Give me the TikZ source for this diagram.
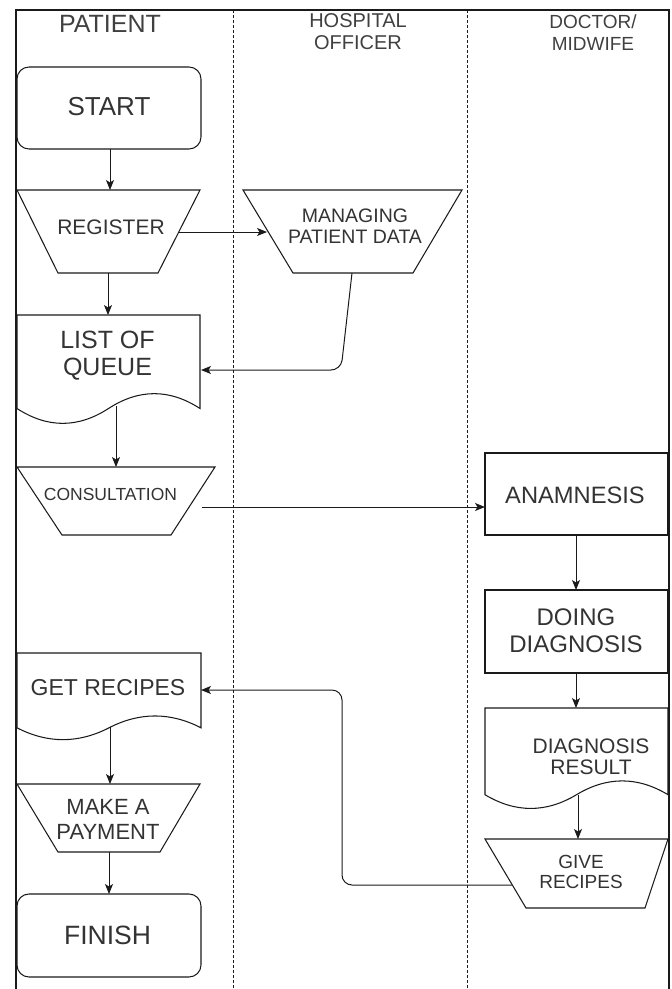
\documentclass[tikz,border=0pt]{standalone}
\usepackage{fontspec}
\setmainfont{Liberation Sans}
\usetikzlibrary{arrows.meta}
\definecolor{txt}{HTML}{333333}
\definecolor{hdr}{HTML}{404040}
\definecolor{ln}{HTML}{1A1A1A}
\newcommand\myfs[2]{\fontsize{#1}{#2}\selectfont}
\tikzset{
  shp/.style={draw=ln, line width=1.05pt, line join=miter},
  conn/.style={draw=ln, line width=1pt, -{Stealth[length=10pt,width=8pt,inset=2.5pt]}},
  lbl/.style={text=txt, align=center, inner sep=0pt},
  hlbl/.style={text=hdr, align=center, inner sep=0pt},
  lane/.style={draw=ln, line width=1pt, dash pattern=on 3pt off 2pt},
  pool/.style={draw=ln, line width=2.2pt, line join=miter},
}
\begin{document}
\begin{tikzpicture}[x=1pt, y=-1pt]
\useasboundingbox (0,0) rectangle (672,989);
% pool and lanes
\draw[pool] (16,989) -- (16,10) -- (669,10) -- (669,989);
\draw[lane] (233,10) -- (233,989);
\draw[lane] (467,10) -- (467,989);
% headers
\node[hlbl, font=\myfs{25}{27}] (hPat) at (110,24) {PATIENT};
\node[hlbl, font=\myfs{20}{22}] (hHos) at (358,32) {HOSPITAL\\OFFICER};
\node[hlbl, font=\myfs{19}{22}] (hDoc) at (593,32.5) {DOCTOR/\\MIDWIFE};
% shapes
\draw[shp, rounded corners=12pt] (17,67) rectangle (201,149);
\node[lbl, font=\myfs{26}{28}] (start) at (109,106.5) {START};

\draw[shp] (17,190) -- (200,190) -- (158,273) -- (58,273) -- cycle;
\node[lbl, font=\myfs{21}{23}] (reg) at (111,227) {REGISTER};

\draw[shp] (243,190) -- (462,190) -- (413,273) -- (293,273) -- cycle;
\node[lbl, font=\myfs{19.5}{21}] (man) at (355,226.5) {MANAGING\\PATIENT DATA};

\draw[shp] (17,315) -- (200,315) -- (200,408.5)
  .. controls (169.5,388.7) and (139,388.7) .. (108.5,408.5)
  .. controls (78,428.3) and (47.5,428.3) .. (17,408.5) -- cycle;
\node[lbl, font=\myfs{25}{27}] (lq) at (107.5,356) {LIST OF\\QUEUE};

\draw[shp] (17,467) -- (215,467) -- (171,535) -- (62,535) -- cycle;
\node[lbl, font=\myfs{17.5}{19}] (con) at (110.5,494) {CONSULTATION};

\draw[shp] (485,453) rectangle (668,535);
\node[lbl, font=\myfs{23.7}{26}] (ana) at (575,495) {ANAMNESIS};

\draw[shp] (485,590) rectangle (668,673);
\node[lbl, font=\myfs{24}{27}] (doing) at (576,630.5) {DOING\\DIAGNOSIS};

\draw[shp] (485,708) -- (668,708) -- (668,794.7)
  .. controls (637.5,776.3) and (607,776.3) .. (576.5,794.7)
  .. controls (546,813) and (515.5,813) .. (485,794.7) -- cycle;
\node[lbl, font=\myfs{21}{21.5}] (dres) at (591,757) {DIAGNOSIS\\RESULT};

\draw[shp] (485,839) -- (668,839) -- (645,908) -- (526,908) -- cycle;
\node[lbl, font=\myfs{19}{20}] (give) at (581,871.5) {GIVE\\RECIPES};

\draw[shp] (17,653) -- (201,653) -- (201,727.8)
  .. controls (170.3,712) and (139.7,712) .. (109,727.8)
  .. controls (78.3,743.6) and (47.7,743.6) .. (17,727.8) -- cycle;
\node[lbl, font=\myfs{23}{25}] (getr) at (108,688) {GET RECIPES};

\draw[shp] (17,784) -- (200,784) -- (160,852) -- (58,852) -- cycle;
\node[lbl, font=\myfs{22}{25}] (pay) at (108,819) {MAKE A\\PAYMENT};

\draw[shp, rounded corners=12pt] (17,894) rectangle (201,977);
\node[lbl, font=\myfs{26.5}{28}] (fin) at (107.5,935) {FINISH};

% connection points
\coordinate (startS) at (110,149);
\coordinate (regN) at (110,190);
\coordinate (regE) at (179,232);
\coordinate (manW) at (267,232);
\coordinate (regS) at (108,273);
\coordinate (lqN) at (108,315);
\coordinate (manS) at (352,273);
\coordinate (bendA) at (341,370);
\coordinate (lqE) at (201,370);
\coordinate (lqS) at (116,406);
\coordinate (conN) at (116,467);
\coordinate (conE) at (202,507);
\coordinate (anaW) at (485,507);
\coordinate (anaS) at (576,535);
\coordinate (doN) at (576,590);
\coordinate (doS) at (576,673);
\coordinate (drN) at (576,708);
\coordinate (drS) at (578,795);
\coordinate (giN) at (578,839);
\coordinate (giW) at (512,885);
\coordinate (bendB) at (342,885);
\coordinate (bendC) at (342,690);
\coordinate (grE) at (201,690);
\coordinate (grS) at (110,727);
\coordinate (payN) at (110,784);
\coordinate (payS) at (109,852);
\coordinate (finN) at (109,894);
% connectors
\draw[conn] (startS) -- (regN);
\draw[conn] (regE) -- (manW);
\draw[conn] (regS) -- (lqN);
\draw[conn, rounded corners=10pt] (manS) -- (bendA) -- (lqE);
\draw[conn] (lqS) -- (conN);
\draw[conn] (conE) -- (anaW);
\draw[conn] (anaS) -- (doN);
\draw[conn] (doS) -- (drN);
\draw[conn] (drS) -- (giN);
\draw[conn, rounded corners=10pt] (giW) -- (bendB) -- (bendC) -- (grE);
\draw[conn] (grS) -- (payN);
\draw[conn] (payS) -- (finN);
\end{tikzpicture}
\end{document}
